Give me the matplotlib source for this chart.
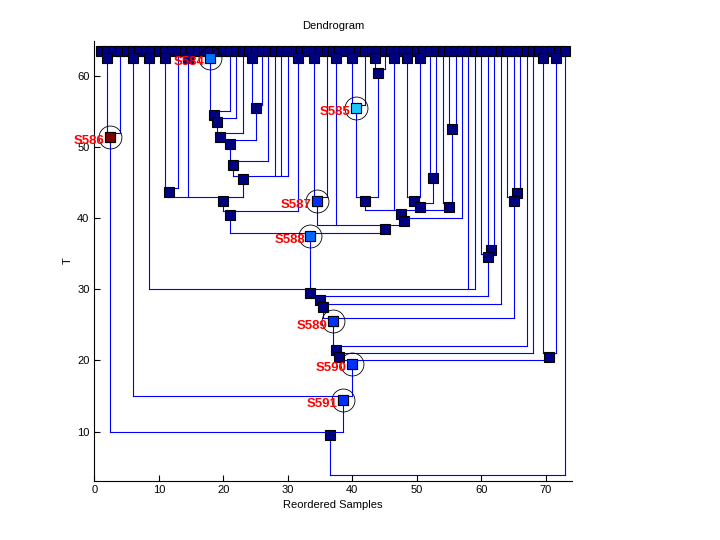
import matplotlib
matplotlib.use("Agg")
import matplotlib.pyplot as plt

plt.rcParams['font.family'] = ['Liberation Sans', 'DejaVu Sans']

n_leaves = 73
leaf_T = 63.6

# clusters as ranges of reordered leaves (inclusive) and node height T
node_start = [1, 1, 5, 8, 10, 10, 14, 16, 16, 16, 16, 24, 24, 16, 16, 16, 10, 31, 10,
              33, 33, 37, 39, 39, 43, 43, 39, 46, 48, 50, 48, 52, 48, 55, 54, 39, 39,
              33, 10, 8, 61, 60, 8, 8, 65, 64, 8, 8, 69, 71, 69, 8, 8, 5, 1, 1]
node_end = [3, 4, 7, 9, 12, 13, 15, 20, 21, 22, 23, 25, 26, 26, 27, 30, 30, 32, 32,
            35, 36, 38, 41, 42, 44, 45, 45, 47, 49, 51, 51, 53, 53, 56, 56, 56, 57,
            57, 57, 59, 62, 62, 62, 63, 66, 66, 66, 67, 70, 72, 72, 68, 72, 72, 72, 73]
node_T = [62.6, 51.5, 62.6, 62.6, 62.6, 43.7, 62.6, 62.6, 54.6, 53.6, 51.5, 62.6, 55.5,
          50.5, 47.5, 45.5, 42.5, 62.6, 40.5, 62.6, 42.5, 62.6, 62.6, 55.5, 62.6, 60.5,
          42.5, 62.6, 62.6, 62.6, 42.5, 45.6, 41.6, 52.6, 41.6, 40.6, 39.6, 38.5, 37.5,
          29.5, 35.6, 34.5, 28.5, 27.5, 43.6, 42.5, 25.5, 21.5, 62.6, 62.6, 20.5, 20.5,
          19.5, 14.5, 9.5, 3.45]

label_names = ['S584', 'S585', 'S586', 'S587', 'S588', 'S589', 'S590', 'S591']
label_start = [16, 39, 1, 33, 10, 8, 8, 5]
label_end = [20, 42, 4, 36, 57, 66, 72, 72]
label_colors = ['#0070ff', '#18c8ff', '#800000', '#0030ff', '#0064ff', '#0030ff', '#0030ff', '#0030ff']

bar_off = 0.5
line_col = '#0000ff'
node_col = '#000082'

items = [(i, i, leaf_T) for i in range(1, n_leaves + 1)]
items += list(zip(node_start, node_end, node_T))


def parent_of(k):
    s, e, _ = items[k]
    best = None
    for j, (s2, e2, t2) in enumerate(items):
        if j == k or not (s2 <= s and e <= e2) or (e2 - s2) <= (e - s):
            continue
        if best is None or (e2 - s2) < (items[best][1] - items[best][0]):
            best = j
    return best


fig = plt.figure(figsize=(7.2, 5.4), dpi=100)
ax = fig.add_axes([0.131, 0.110, 0.663, 0.8135])

children = {}
for k, (s, e, t) in enumerate(items):
    p = parent_of(k)
    if p is None:
        continue
    children.setdefault(p, []).append(k)
    x = (s + e) / 2
    ax.plot([x, x], [t, items[p][2] + bar_off], color=line_col, lw=0.8, zorder=1)

for p, ch in children.items():
    xs = [(items[c][0] + items[c][1]) / 2 for c in ch]
    yb = items[p][2] + bar_off
    ax.plot([min(xs), max(xs)], [yb, yb], color=line_col, lw=0.8, zorder=1)

for k, (s, e, t) in enumerate(items):
    if s == 1 and e == n_leaves:
        continue
    ax.plot((s + e) / 2, t, 's', ms=7.3, mfc=node_col, mec='black', mew=0.8, zorder=2)

for name, s, e, c in zip(label_names, label_start, label_end, label_colors):
    t = [it[2] for it in items if it[0] == s and it[1] == e][0]
    x = (s + e) / 2
    ax.plot(x, t, 's', ms=7.3, mfc=c, mec='black', mew=0.8, zorder=3)
    ax.plot(x, t, 'o', ms=16.5, mfc='none', mec='black', mew=0.6, zorder=4)
    ax.annotate(name, (x, t), xytext=(-4, -3), textcoords='offset points',
                ha='right', va='center', color='red', fontsize=9.5,
                fontweight='bold', zorder=5)

ax.set_xlim(0, 74)
ax.set_ylim(3.1, 64.9)
ax.set_xticks(range(0, 71, 10))
ax.set_yticks(range(10, 61, 10))
ax.tick_params(direction='in', length=4, labelsize=8)
ax.spines['top'].set_visible(False)
ax.spines['right'].set_visible(False)
ax.set_title('Dendrogram', fontsize=8, pad=9)
ax.set_xlabel('Reordered Samples', fontsize=8, labelpad=3)
ax.set_ylabel('T', fontsize=8, labelpad=3)

fig.savefig('out.png', dpi=100)
